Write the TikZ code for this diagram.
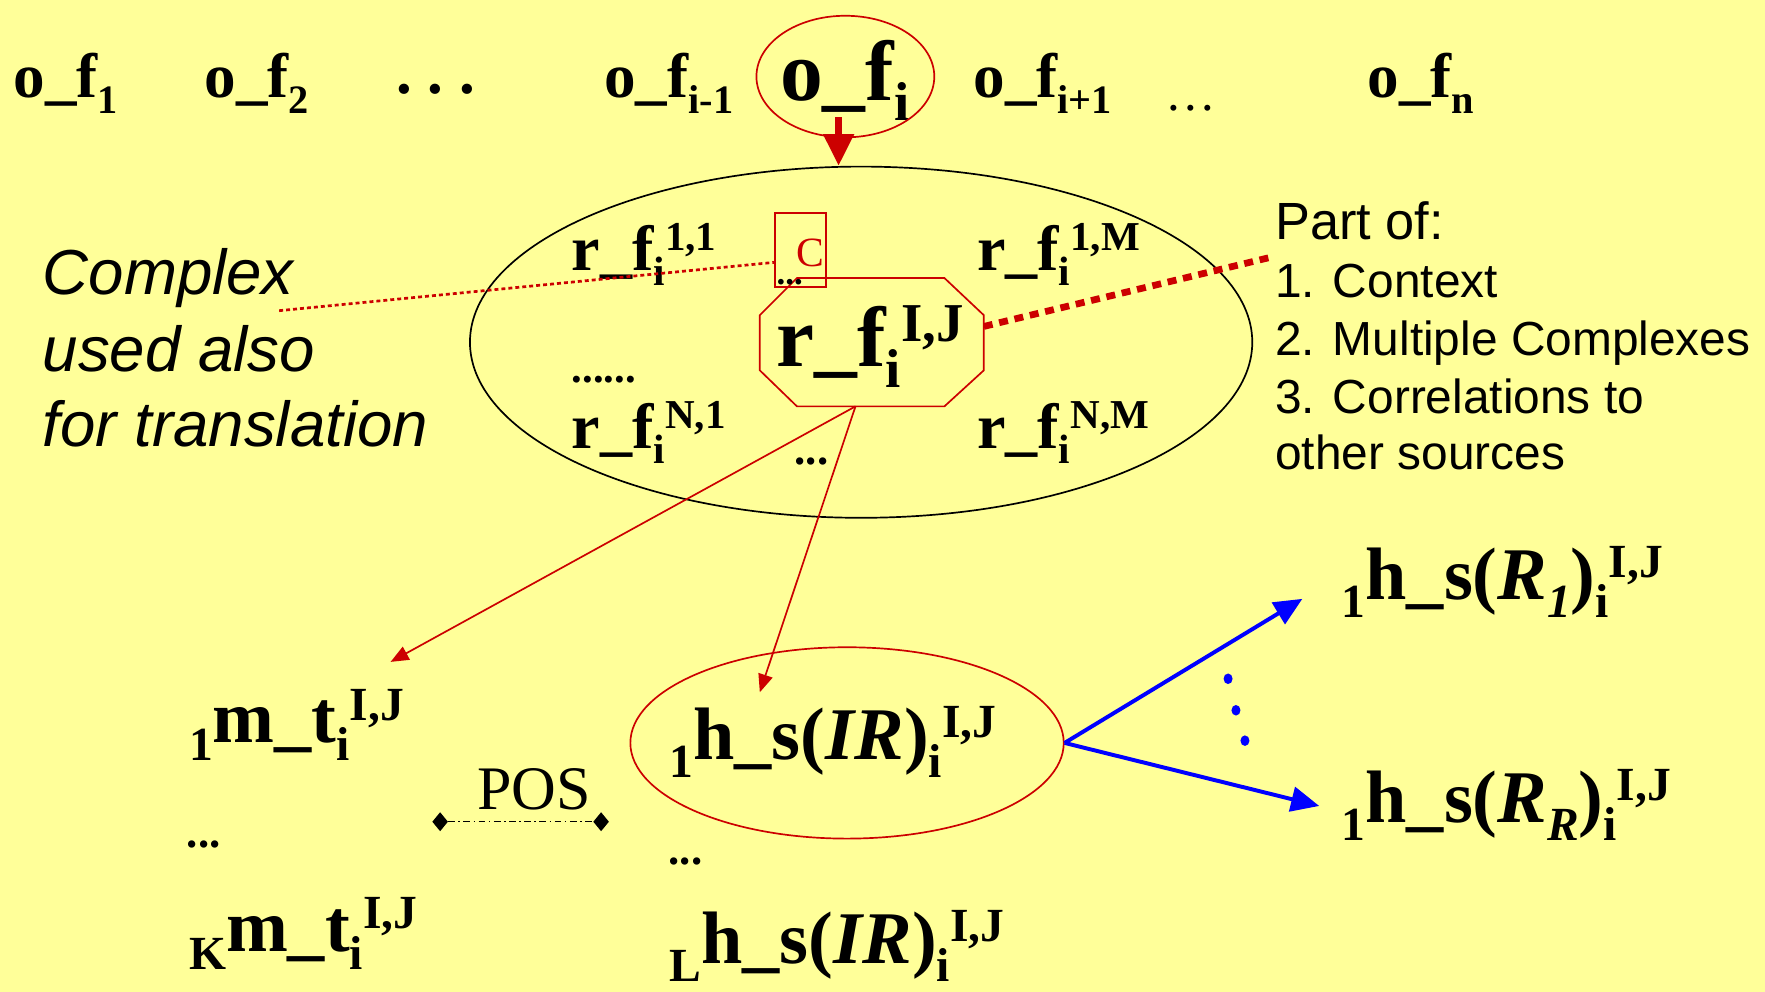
\documentclass[tikz,border=0pt]{standalone}
\usepackage{fontspec}
\setmainfont{Liberation Serif}
\setsansfont{Liberation Sans}
\usetikzlibrary{arrows.meta,shapes.geometric}
\definecolor{bgyellow}{HTML}{FFFF99}
\definecolor{dred}{HTML}{CC0000}
\definecolor{pblue}{HTML}{0000FF}
\newcommand{\mysub}[1]{\raisebox{-0.24em}{\scalebox{0.64}{#1}}}
\newcommand{\mysup}[1]{\raisebox{0.30em}{\scalebox{0.64}{#1}}}
\newcommand{\fsz}[1]{\fontsize{#1}{#1}\selectfont}
\begin{document}
\begin{tikzpicture}[x=1pt,y=-1pt,
  txt/.style={anchor=base west, inner sep=0pt, outer sep=0pt},
  topf/.style={txt, font=\fsz{56}\bfseries},
  topbig/.style={txt, font=\fsz{76}\bfseries},
  rf/.style={txt, font=\fsz{57}\bfseries},
  bot/.style={txt, font=\fsz{66}\bfseries},
  dotsml/.style={txt, font=\fsz{40}\bfseries},
  side/.style={txt, font=\fsz{42.5}\sffamily},
  note/.style={txt, font=\fsz{56.5}\sffamily\itshape},
  redarrow/.style={dred, line width=1.5pt, -{Triangle[length=16pt,width=13pt]}},
  bluearrow/.style={pblue, line width=3.5pt, -{Triangle[length=25pt,width=22pt]}},
  thindot/.style={dred, line width=2.4pt, dash pattern=on 3.5pt off 2.7pt},
  thickdot/.style={dred, line width=6pt, dash pattern=on 8pt off 6pt},
]
\fill[bgyellow] (0,0) rectangle (1568,881);
\useasboundingbox (0,0) rectangle (1568,881);

% top row
\node[topf] (of1) at (12,87) {o\_f\mysub{1}};
\node[topf] (of2) at (182,87) {o\_f\mysub{2}};
\node[topf] (odots) at (352,83) {.\ .\ .};
\node[topf] (ofim) at (537,87) {o\_f\mysub{i-1}};
\node[topbig] (ofi) at (693,89) {o\_f\mysub{i}};
\node[topf] (ofip) at (865,87) {o\_f\mysub{i+1}};
\node[txt, font=\fsz{45}] (odots2) at (1035,98) {…};
\node[topf] (ofn) at (1215,87) {o\_f\mysub{n}};
\node[ellipse, draw=dred, line width=1.5pt, minimum width=158, minimum height=108, inner sep=0pt] (ofiring) at (751,68) {};

% big ellipse
\node[ellipse, draw, line width=1.5pt, minimum width=695, minimum height=312, inner sep=0pt] (bigell) at (765,304) {};
\coordinate (arrA) at (745,104);
\draw[dred, line width=6pt, -{Triangle[length=28pt,width=26pt]}] (arrA) -- (arrA |- bigell.north);

% octagon
\draw[dred, line width=1.5pt] (708,247) -- (839,247) -- (874,280) -- (874,329) -- (839,361) -- (708,361) -- (675,329) -- (675,280) -- cycle;
\coordinate (octR) at (874,290);
\coordinate (octB) at (760,361);
\node[topbig] (rfij) at (690,326) {r\_f\mysub{i}\mysup{I,J}};

% contents of big ellipse
\node[rf] (rf11) at (508,240) {r\_f\mysub{i}\mysup{1,1}};
\node[rf] (rf1M) at (868,240) {r\_f\mysub{i}\mysup{1,M}};
\node[rf] (rfN1) at (508,398) {r\_f\mysub{i}\mysup{N,1}};
\node[rf] (rfNM) at (868,398) {r\_f\mysub{i}\mysup{N,M}};
\node[txt, font=\fsz{38}\bfseries] (rdots1) at (508,340) {......};
\node[dotsml] (rdots2) at (706,413) {...};

% C box
\node[draw=dred, line width=1.5pt, minimum width=45.5, minimum height=65.5, inner sep=0pt] (cbox) at (711.25,222.25) {};
\node[txt, font=\fsz{37}, text=dred] (clbl) at (708,237) {C};
\node[txt, font=\fsz{31}\bfseries] (cdots) at (690,253) {...};
\coordinate (cbx) at (688.5,233);

% left note
\node[note] (cx1) at (38,262) {Complex};
\node[note] (cx2) at (38,330) {used also};
\node[note] (cx3) at (38,397) {for translation};
\coordinate (cxpt) at (248,276);
\draw[thindot] (cxpt) -- (cbx);

% right note
\node[txt, font=\fsz{46.5}\sffamily] (p0) at (1133,213) {Part of:};
\node[side] (p1) at (1133,264) {1. Context};
\node[side] (p2) at (1133,316) {2. Multiple Complexes};
\node[side] (p3) at (1133,367) {3. Correlations to};
\node[side] (p4) at (1133,417) {other sources};
\coordinate (ppt) at (1127,229);
\draw[thickdot] (octR) -- (ppt);

% bottom left
\node[bot] (mt1) at (168,660) {\mysub{1}m\_t\mysub{i}\mysup{I,J}};
\node[dotsml] (mdots) at (166,753) {...};
\node[bot] (mtK) at (168,845) {\mysub{K}m\_t\mysub{i}\mysup{I,J}};

% POS
\node[txt, font=\fsz{55}] (pos) at (424,719) {POS};
\node[diamond, fill, minimum width=14, minimum height=17, inner sep=0pt] (dL) at (391,730) {};
\node[diamond, fill, minimum width=14, minimum height=17, inner sep=0pt] (dR) at (534,730) {};
\draw[line width=1.2pt, dash pattern=on 6pt off 3pt on 1.5pt off 3pt] (dL) -- (dR);

% bottom middle
\node[ellipse, draw=dred, line width=1.5pt, minimum width=385, minimum height=170, inner sep=0pt] (hsell) at (752.5,660) {};
\node[bot] (hs1) at (595,675) {\mysub{1}h\_s(\textit{IR})\mysub{i}\mysup{I,J}};
\node[dotsml] (hdots) at (594,768) {...};
\node[bot] (hsL) at (595,856) {\mysub{L}h\_s(\textit{IR})\mysub{i}\mysup{I,J}};

% red arrows
\coordinate (tipM) at (347,588);
\coordinate (tipH) at (675,615);
\draw[redarrow] (octB) -- (tipM);
\draw[redarrow] (octB) -- (tipH);

% right
\node[bot] (hr1) at (1192,533) {\mysub{1}h\_s(\textit{R\mysub{1}})\mysub{i}\mysup{I,J}};
\node[bot] (hrR) at (1192,731) {\mysub{1}h\_s(\textit{R\mysub{R}})\mysub{i}\mysup{I,J}};
\coordinate (tipR1) at (1157,532);
\coordinate (tipRR) at (1172,716);
\draw[bluearrow] (hsell.east) -- (tipR1);
\draw[bluearrow] (hsell.east) -- (tipRR);
\fill[pblue] (1091,603) ellipse [x radius=4, y radius=4.7];
\fill[pblue] (1098,631) ellipse [x radius=4, y radius=4.7];
\fill[pblue] (1106,658) ellipse [x radius=4, y radius=4.7];
\end{tikzpicture}
\end{document}
